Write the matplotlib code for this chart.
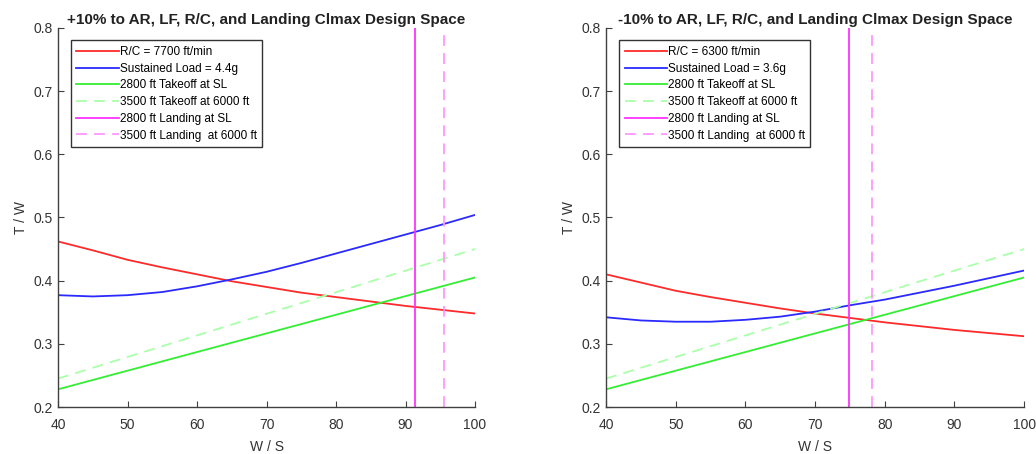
import matplotlib
matplotlib.use("Agg")
import matplotlib.pyplot as plt

plt.rcParams['font.family'] = ['Liberation Sans', 'DejaVu Sans']

ws = [40, 45, 50, 55, 60, 65, 70, 75, 80, 85, 90, 95, 100]
ws_lin = [40, 100]

# Left panel (+10%)
rc_left = [0.462, 0.448, 0.433, 0.421, 0.410, 0.399, 0.390, 0.381, 0.374, 0.367, 0.360, 0.354, 0.348]
load_left = [0.377, 0.375, 0.377, 0.382, 0.391, 0.402, 0.414, 0.428, 0.443, 0.458, 0.473, 0.488, 0.504]
to_sl_left = [0.228, 0.405]
to_6k_left = [0.245, 0.450]
land_sl_left = 91.4
land_6k_left = 95.6

# Right panel (-10%)
rc_right = [0.410, 0.397, 0.384, 0.374, 0.365, 0.356, 0.348, 0.341, 0.334, 0.328, 0.322, 0.317, 0.312]
load_right = [0.342, 0.337, 0.335, 0.335, 0.338, 0.343, 0.351, 0.361, 0.370, 0.381, 0.392, 0.404, 0.416]
to_sl_right = [0.228, 0.405]
to_6k_right = [0.245, 0.450]
land_sl_right = 74.8
land_6k_right = 78.2

titles = ["+10% to AR, LF, R/C, and Landing Clmax Design Space",
          "-10% to AR, LF, R/C, and Landing Clmax Design Space"]
labels_left = ["R/C = 7700 ft/min", "Sustained Load = 4.4g", "2800 ft Takeoff at SL",
               "3500 ft Takeoff at 6000 ft", "2800 ft Landing at SL", "3500 ft Landing  at 6000 ft"]
labels_right = ["R/C = 6300 ft/min", "Sustained Load = 3.6g", "2800 ft Takeoff at SL",
                "3500 ft Takeoff at 6000 ft", "2800 ft Landing at SL", "3500 ft Landing  at 6000 ft"]

fig = plt.figure(figsize=(10.36, 4.54), dpi=100)
ax1 = fig.add_axes([0.056, 0.1035, 0.4025, 0.835])
ax2 = fig.add_axes([0.585, 0.1035, 0.4035, 0.835])

axcol = '#404040'
panels = [
    (ax1, rc_left, load_left, to_sl_left, to_6k_left, land_sl_left, land_6k_left, labels_left, titles[0]),
    (ax2, rc_right, load_right, to_sl_right, to_6k_right, land_sl_right, land_6k_right, labels_right, titles[1]),
]
for ax, rc, load, tsl, t6k, lsl, l6k, labels, title in panels:
    h1, = ax.plot(ws, rc, color='#ff2a2a', lw=1.3)
    h2, = ax.plot(ws, load, color='#2a2aff', lw=1.3)
    h3, = ax.plot(ws_lin, tsl, color='#33ee33', lw=1.3)
    h4, = ax.plot(ws_lin, t6k, color='#aaffaa', lw=1.3, ls=(0, (6, 4)))
    h5 = ax.axvline(lsl, color='#ff33ff', lw=1.3)
    h6 = ax.axvline(l6k, color='#ff99ff', lw=1.3, ls=(0, (6, 4)))
    ax.set_xlim(40, 100)
    ax.set_ylim(0.2, 0.8)
    ax.set_xticks(range(40, 101, 10))
    ax.set_yticks([0.2, 0.3, 0.4, 0.5, 0.6, 0.7, 0.8])
    ax.set_yticklabels(['0.2', '0.3', '0.4', '0.5', '0.6', '0.7', '0.8'])
    ax.spines['top'].set_visible(False)
    ax.spines['right'].set_visible(False)
    for s in ('left', 'bottom'):
        ax.spines[s].set_color(axcol)
        ax.spines[s].set_linewidth(1.0)
    ax.tick_params(direction='in', length=4, color=axcol, labelcolor='#333333', labelsize=10)
    ax.tick_params(axis='x', pad=8)
    ax.tick_params(axis='y', pad=4)
    ax.set_xlabel('W / S', fontsize=10, color='#333333', labelpad=6)
    ax.set_ylabel('T / W', fontsize=10, color='#333333', labelpad=4)
    ax.set_title(title, fontsize=11, fontweight='bold', color='#222222', pad=3)
    leg = ax.legend([h1, h2, h3, h4, h5, h6], labels, loc='upper left',
                    bbox_to_anchor=(0.03, 0.968), fontsize=8.5, handlelength=3.6,
                    handletextpad=0.05, labelspacing=0.4, borderpad=0.5,
                    borderaxespad=0, fancybox=False, framealpha=1, edgecolor='#333333')
    leg.get_frame().set_linewidth(1.0)

fig.savefig('out.png', dpi=100)
